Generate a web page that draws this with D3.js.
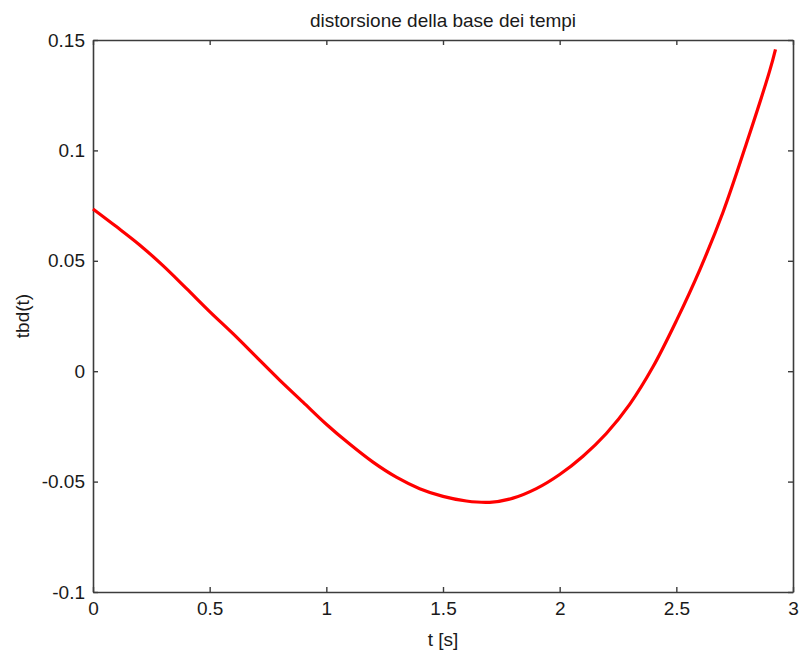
<!DOCTYPE html>
<html>
<head>
<meta charset="utf-8">
<script src="https://cdn.jsdelivr.net/npm/d3@7"></script>
<style>
  html, body { margin: 0; padding: 0; background: #fff; }
  svg { display: block; }
  text { font-family: "Liberation Sans", Arial, Helvetica, sans-serif; fill: #1a1a1a; }
</style>
</head>
<body>
<svg id="chart" width="800" height="654"></svg>
<script>
// time samples [s]
const tValues = [0.0, 0.1, 0.2, 0.3, 0.4, 0.5, 0.6, 0.7, 0.8, 0.9,
                 1.0, 1.1, 1.2, 1.3, 1.4, 1.5, 1.6, 1.7, 1.8, 1.9,
                 2.0, 2.1, 2.2, 2.3, 2.4, 2.5, 2.6, 2.7, 2.8, 2.9, 2.925];
// time-base distortion tbd(t)
const tbdValues = [0.0735, 0.0655, 0.0572, 0.0478, 0.0375, 0.0270, 0.0170, 0.0065, -0.0040, -0.0140,
                   -0.0240, -0.0330, -0.0412, -0.0480, -0.0532, -0.0567, -0.0588, -0.0594, -0.0575, -0.0532,
                   -0.0468, -0.0385, -0.0282, -0.0150, 0.0020, 0.0228, 0.0458, 0.0720, 0.1030, 0.1360, 0.1458];
const xTicks = [0, 0.5, 1, 1.5, 2, 2.5, 3];
const yTicks = [-0.1, -0.05, 0, 0.05, 0.1, 0.15];
const titleText = "distorsione della base dei tempi";
const xLabelText = "t [s]";
const yLabelText = "tbd(t)";

const margin = { left: 93, right: 7, top: 40, bottom: 62 };
const W = 800, H = 654;
const svg = d3.select("#chart");

const x = d3.scaleLinear().domain([0, 3]).range([margin.left, W - margin.right]);
const y = d3.scaleLinear().domain([-0.1, 0.15]).range([H - margin.bottom, margin.top]);

const fmt = d => String(d);
const axisColor = "#3c3c3c";
const fontSize = 19;

function styleAxis(g) {
  g.select(".domain").attr("stroke", axisColor).attr("stroke-width", 1.6);
  g.selectAll(".tick line").attr("stroke", axisColor).attr("stroke-width", 1.4);
  g.selectAll(".tick text").attr("font-size", fontSize).attr("fill", "#1a1a1a")
    .attr("font-family", "'Liberation Sans', Arial, Helvetica, sans-serif");
}

// bottom axis with labels, ticks pointing into the plot
svg.append("g")
  .attr("transform", `translate(0,${y.range()[0]})`)
  .call(d3.axisBottom(x).tickValues(xTicks).tickFormat(fmt).tickSize(-5).tickPadding(10).tickSizeOuter(0))
  .call(styleAxis);

// top axis, ticks only
svg.append("g")
  .attr("transform", `translate(0,${y.range()[1]})`)
  .call(d3.axisTop(x).tickValues(xTicks).tickFormat("").tickSize(-5).tickSizeOuter(0))
  .call(styleAxis);

// left axis with labels
svg.append("g")
  .attr("transform", `translate(${x.range()[0]},0)`)
  .call(d3.axisLeft(y).tickValues(yTicks).tickFormat(fmt).tickSize(-5).tickPadding(8).tickSizeOuter(0))
  .call(styleAxis);

// right axis, ticks only
svg.append("g")
  .attr("transform", `translate(${x.range()[1]},0)`)
  .call(d3.axisRight(y).tickValues(yTicks).tickFormat("").tickSize(-5).tickSizeOuter(0))
  .call(styleAxis);

// curve
const pts = tValues.map((t, i) => [t, tbdValues[i]]);
svg.append("path")
  .datum(pts)
  .attr("fill", "none")
  .attr("stroke", "#ff0000")
  .attr("stroke-width", 3.2)
  .attr("stroke-linejoin", "round")
  .attr("d", d3.line().x(d => x(d[0])).y(d => y(d[1])).curve(d3.curveCatmullRom.alpha(0.5)));

// title and axis labels
const cx = (x.range()[0] + x.range()[1]) / 2;
svg.append("text").attr("x", cx).attr("y", 27).attr("text-anchor", "middle")
  .attr("font-size", fontSize).text(titleText);
svg.append("text").attr("x", cx).attr("y", 646).attr("text-anchor", "middle")
  .attr("font-size", fontSize).text(xLabelText);
svg.append("text")
  .attr("transform", `translate(29,${(y.range()[0] + y.range()[1]) / 2}) rotate(-90)`)
  .attr("text-anchor", "middle").attr("font-size", fontSize).text(yLabelText);
</script>
</body>
</html>
